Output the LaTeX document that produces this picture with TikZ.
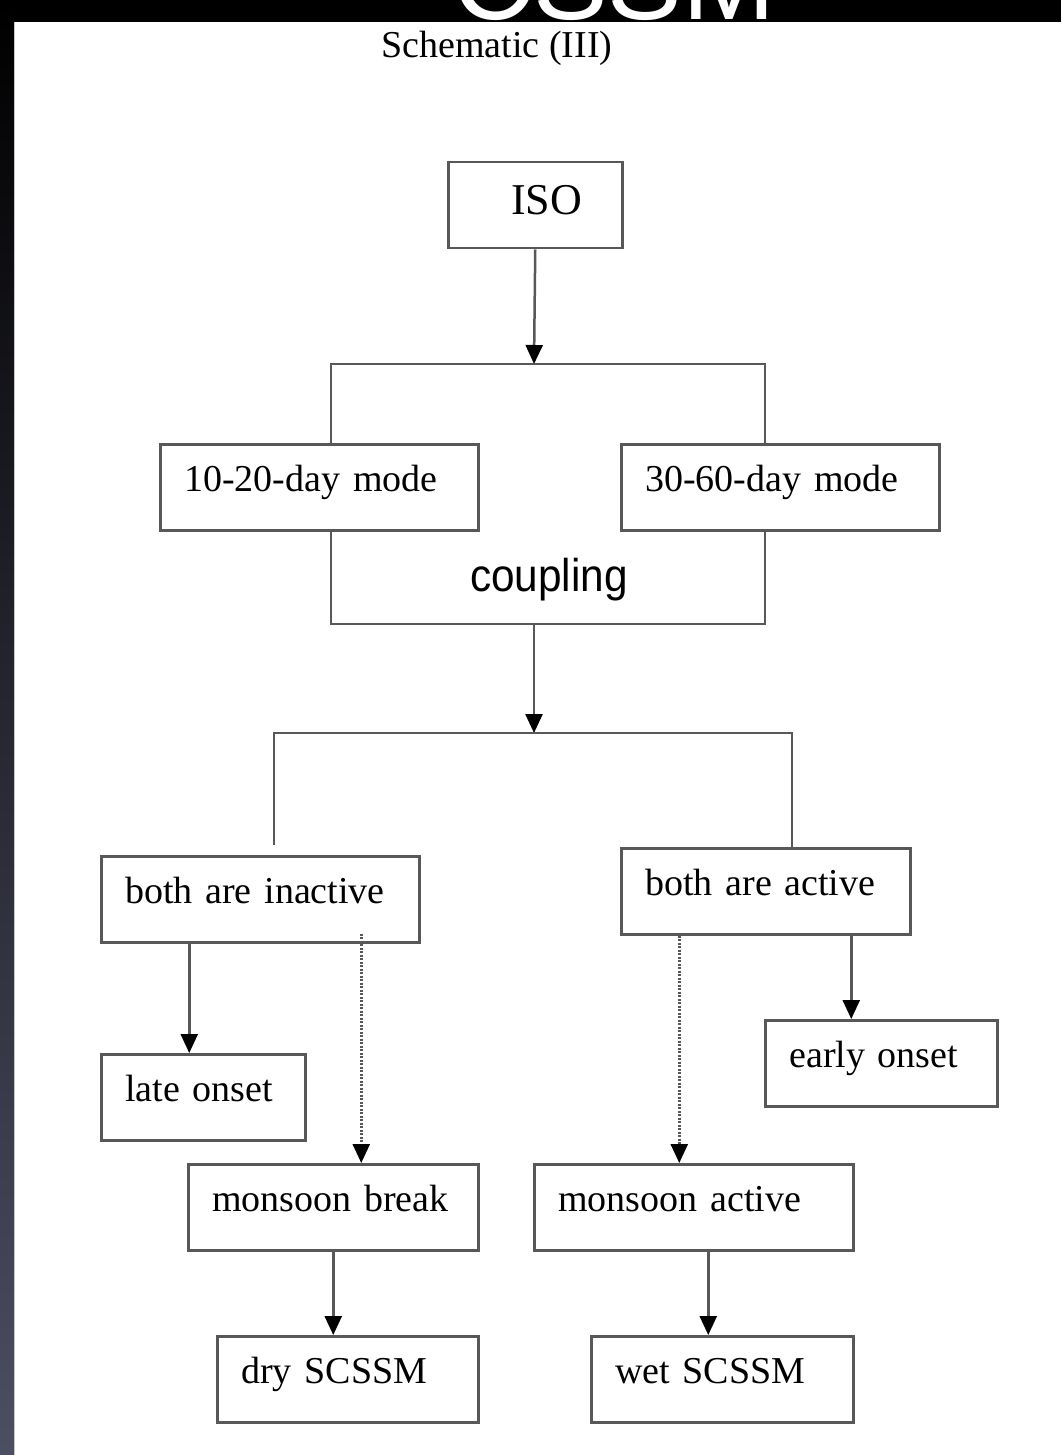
\documentclass[tikz,border=0pt]{standalone}
\usepackage{fontspec}
\setmainfont{Liberation Serif}
\newfontfamily\cpfont{Liberation Sans}
\usepackage{graphicx}
\usetikzlibrary{arrows.meta}
\definecolor{linegray}{RGB}{88,88,88}
\definecolor{bandblue}{RGB}{76,78,98}
\definecolor{bandnavy}{RGB}{28,28,56}
\tikzset{
	box/.style={draw=linegray, line width=2.5pt, anchor=north west,
		minimum height=86pt, inner xsep=24pt, inner ysep=0pt,
		text height=26pt, text depth=18pt, align=left, text width=#1,
		font=\fontsize{38}{40}\selectfont},
	link/.style={draw=linegray, line width=2.5pt},
	arr/.style={link, -{Triangle[width=17pt,length=19pt,color=black]}},
	dotarr/.style={arr, dash pattern=on 2pt off 1.5pt},
}

\begin{document}
\begin{tikzpicture}[x=1pt,y=-1pt]
\useasboundingbox (0,0) rectangle (1061,1455);
\fill[white] (0,0) rectangle (1061,1455);
% frame of the slide
\fill[black] (0,0) rectangle (1061,22);
\shade[top color=black, middle color=bandnavy, bottom color=bandblue] (0,0) rectangle (14,1455);
\draw[gray!45, line width=1.5pt] (14.5,22) -- (14.5,1455);
\begin{scope}
\clip (15,0) rectangle (1061,22);
\node[white, anchor=base west, inner sep=0pt, font=\cpfont\fontsize{112}{112}\selectfont] (slide) at (452,20) {CSSM};
\end{scope}

\node[font=\fontsize{38}{40}\selectfont] (title) at (497,48) {Schematic (III)};

% boxes
\node[box=126pt, text height=30pt, text depth=11pt] (iso) at (447,161) {\hspace*{39pt}\fontsize{44}{46}\selectfont ISO};
\node[box=270pt] (mode1) at (159,443) {10-20-day mode};
\node[box=270pt] (mode2) at (620,443) {30-60-day mode};
\node[font=\cpfont] (cpl) at (549,580) {\scalebox{0.92}[1]{\fontsize{46}{48}\selectfont coupling}};

\node[box=270pt] (inact) at (100,855) {both are inactive};
\node[box=241pt] (act) at (620,847) {both are active};
\node[box=156pt] (late) at (100,1053) {late onset};
\node[box=184pt] (early) at (764,1019) {early onset};
\node[box=242pt] (brk) at (187,1163) {monsoon break};
\node[box=271pt] (mact) at (533,1163) {monsoon active};
\node[box=213pt] (dry) at (216,1335) {dry SCSSM};
\node[box=214pt] (wet) at (590,1335) {wet SCSSM};

% branching lines
\coordinate (hsplit) at (534,364);
\coordinate (ul) at (331,364);
\coordinate (ur) at (765,364);
\coordinate (ll) at (331,624);
\coordinate (lr) at (765,624);
\coordinate (cdown) at (534,624);
\coordinate (bsplit) at (534,733);
\coordinate (bl) at (274,733);
\coordinate (br) at (792,733);

\draw[arr] (iso.south) -- (hsplit);
\draw[link] (ul |- mode1.north) -- (ul) -- (ur) -- (ur |- mode2.north);
\draw[link] (ll |- mode1.south) -- (ll) -- (lr) -- (lr |- mode2.south);
\draw[arr] (cdown) -- (bsplit);
\draw[link] ([yshift=10pt]bl |- inact.north) -- (bl) -- (br) -- (br |- act.north);

% outcomes
\coordinate (lateup) at ([xshift=-14pt]late.north);
\coordinate (brkup) at ([xshift=28pt]brk.north);
\coordinate (mactup) at ([xshift=-14.5pt]mact.north);
\coordinate (earlyup) at ([xshift=-30pt]early.north);
\coordinate (wetup) at ([xshift=-14pt]wet.north);

\draw[arr] (lateup |- inact.south) -- (lateup);
\draw[dotarr] ([yshift=10pt]brkup |- inact.south) -- (brkup);
\draw[arr] (brk.south) -- (brk.south |- dry.north);
\draw[dotarr] (mactup |- act.south) -- (mactup);
\draw[arr] (earlyup |- act.south) -- (earlyup);
\draw[arr] (wetup |- mact.south) -- (wetup);
\end{tikzpicture}
\end{document}
